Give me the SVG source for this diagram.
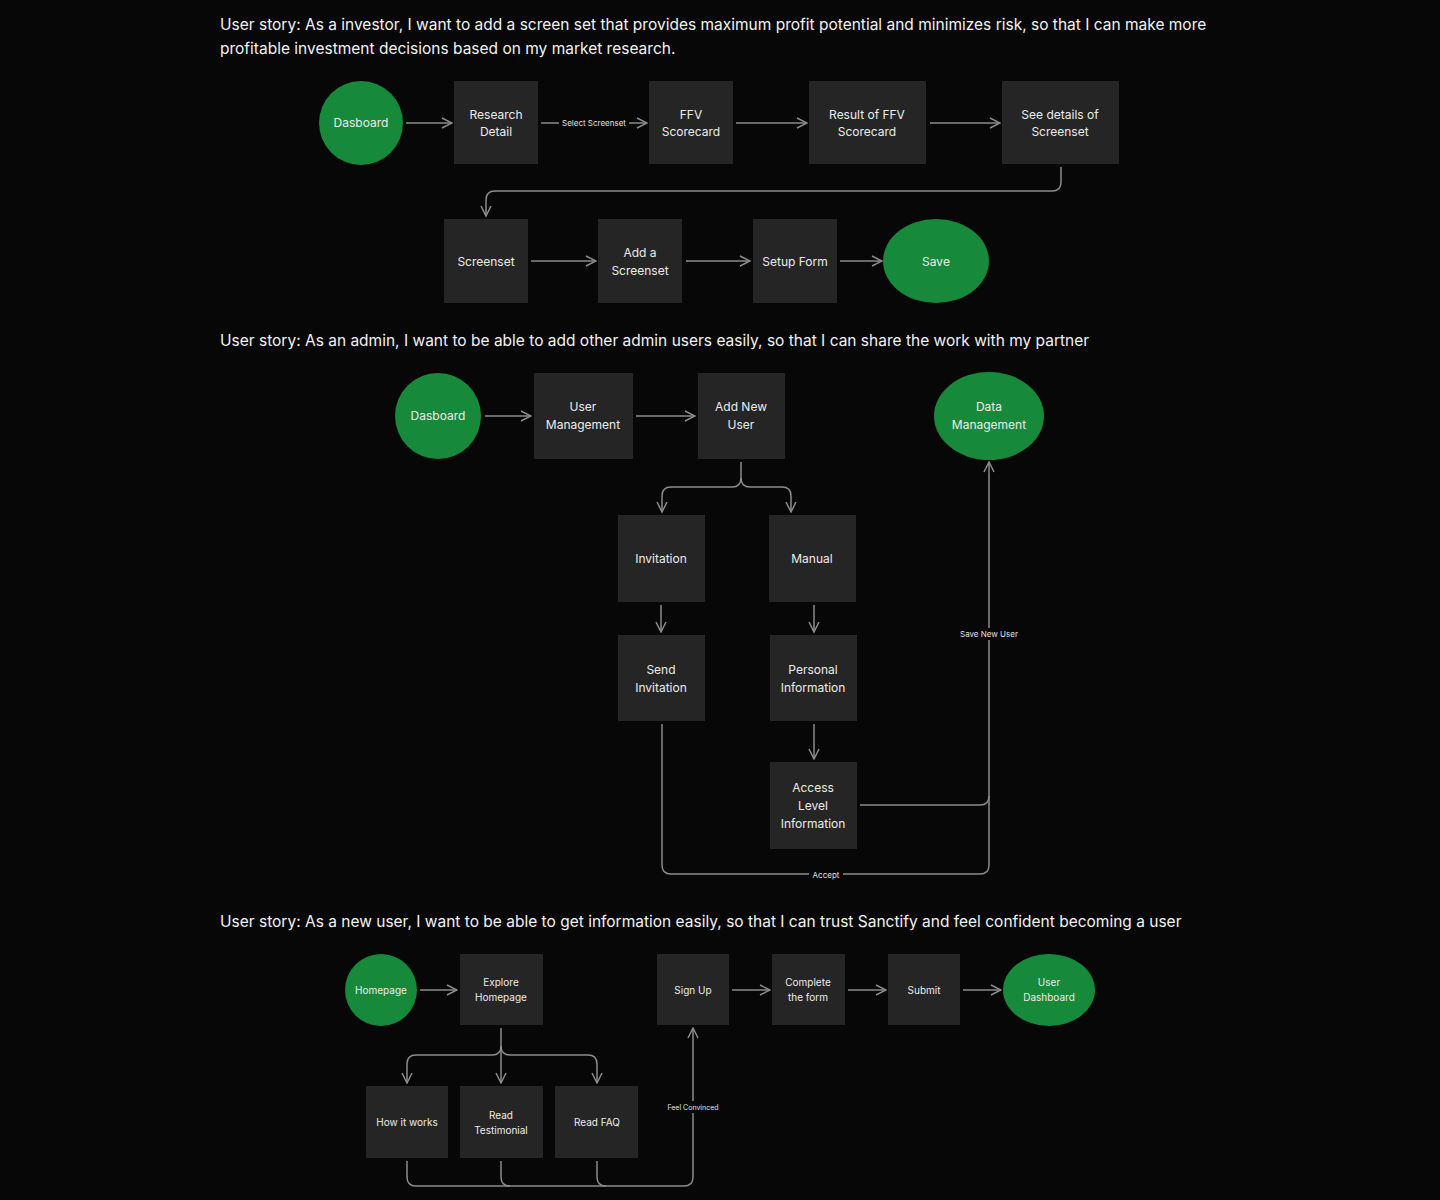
<svg xmlns="http://www.w3.org/2000/svg" width="1440" height="1200" viewBox="0 0 1440 1200">
<defs>
<marker id="ar" viewBox="0 0 12 12" refX="11" refY="6" markerWidth="12" markerHeight="12" markerUnits="userSpaceOnUse" orient="auto"><path d="M1,1 L11,6 L1,11" fill="none" stroke="#8c8c8c" stroke-width="1.5"/></marker>
</defs>
<style>
.bx{fill:#252525}
.gr{fill:#16893b}
.t{font-family:Inter,"Liberation Sans",sans-serif;font-size:12px;fill:#ececec;text-anchor:middle}
.h{font-family:Inter,"Liberation Sans",sans-serif;font-size:15.5px;fill:#f2f2f2}
.s{font-family:Inter,"Liberation Sans",sans-serif;font-size:8px;fill:#e0e0e0;text-anchor:middle}
.c path,.c line{fill:none;stroke:#8c8c8c;stroke-width:1.5}
.lb{fill:#070707}
</style>
<rect width="1440" height="1200" fill="#070707"/>
<text class="h" x="220" y="30">User story: As a investor, I want to add a screen set that provides maximum profit potential and minimizes risk, so that I can make more</text>
<text class="h" x="220" y="54">profitable investment decisions based on my market research.</text>
<text class="h" x="220" y="346">User story: As an admin, I want to be able to add other admin users easily, so that I can share the work with my partner</text>
<text class="h" x="220" y="927">User story: As a new user, I want to be able to get information easily, so that I can trust Sanctify and feel confident becoming a user</text>

<g class="c">
<line x1="406" y1="123" x2="452" y2="123" marker-end="url(#ar)"/>
<line x1="541" y1="123" x2="647" y2="123" marker-end="url(#ar)"/>
<line x1="736" y1="123" x2="807" y2="123" marker-end="url(#ar)"/>
<line x1="930" y1="123" x2="1000" y2="123" marker-end="url(#ar)"/>
<path d="M1061,167 V182 Q1061,191 1052,191 H495 Q486,191 486,200 V216" marker-end="url(#ar)"/>
<line x1="531" y1="261" x2="596" y2="261" marker-end="url(#ar)"/>
<line x1="686" y1="261" x2="750" y2="261" marker-end="url(#ar)"/>
<line x1="840" y1="261" x2="882" y2="261" marker-end="url(#ar)"/>

<line x1="485" y1="416" x2="531" y2="416" marker-end="url(#ar)"/>
<line x1="636" y1="416" x2="695" y2="416" marker-end="url(#ar)"/>
<path d="M741,462 V478 Q741,487 732,487 H671 Q662,487 662,496 V512" marker-end="url(#ar)"/>
<path d="M741,478 Q741,487 750,487 H782 Q791,487 791,496 V512" marker-end="url(#ar)"/>
<line x1="661" y1="605" x2="661" y2="632" marker-end="url(#ar)"/>
<line x1="814" y1="605" x2="814" y2="632" marker-end="url(#ar)"/>
<line x1="814" y1="724" x2="814" y2="759" marker-end="url(#ar)"/>
<path d="M860,805 H980 Q989,805 989,796 V462" marker-end="url(#ar)"/>
<path d="M662,724 V865 Q662,874 671,874 H980 Q989,874 989,865 V796"/>

<line x1="420" y1="990" x2="457" y2="990" marker-end="url(#ar)"/>
<line x1="732" y1="990" x2="770" y2="990" marker-end="url(#ar)"/>
<line x1="848" y1="990" x2="886" y2="990" marker-end="url(#ar)"/>
<line x1="963" y1="990" x2="1001" y2="990" marker-end="url(#ar)"/>
<line x1="501" y1="1028" x2="501" y2="1083" marker-end="url(#ar)"/>
<path d="M501,1046 Q501,1055 492,1055 H416 Q407,1055 407,1064 V1083" marker-end="url(#ar)"/>
<path d="M501,1046 Q501,1055 510,1055 H588 Q597,1055 597,1064 V1083" marker-end="url(#ar)"/>
<path d="M407,1161 V1177 Q407,1186 416,1186 H684 Q693,1186 693,1177 V1028" marker-end="url(#ar)"/>
<path d="M501,1161 V1177 Q501,1186 510,1186"/>
<path d="M597,1161 V1177 Q597,1186 606,1186"/>
</g>
<g id="labels">
<rect class="lb" x="559" y="117" width="70" height="12"/><text class="s" x="594" y="126">Select Screenset</text>
<rect class="lb" x="958" y="628" width="62" height="12"/><text class="s" x="989" y="637">Save New User</text>
<rect class="lb" x="809" y="869" width="34" height="12"/><text class="s" x="826" y="878">Accept</text>
<rect class="lb" x="666" y="1101" width="54" height="12"/><text class="s" x="693" y="1110" style="font-size:7px">Feel Convinced</text>
</g>

<g id="n1"><circle class="gr" cx="361" cy="123" r="42"/><text class="t" x="361" y="127">Dasboard</text></g>
<g id="n2"><rect class="bx" x="454" y="81" width="84" height="83"/><text class="t" x="496" y="119">Research</text><text class="t" x="496" y="136">Detail</text></g>
<g id="n3"><rect class="bx" x="649" y="81" width="84" height="83"/><text class="t" x="691" y="119">FFV</text><text class="t" x="691" y="136">Scorecard</text></g>
<g id="n4"><rect class="bx" x="809" y="81" width="117" height="83"/><text class="t" x="867" y="119">Result of FFV</text><text class="t" x="867" y="136">Scorecard</text></g>
<g id="n5"><rect class="bx" x="1002" y="81" width="117" height="83"/><text class="t" x="1060" y="119">See details of</text><text class="t" x="1060" y="136">Screenset</text></g>
<g id="n6"><rect class="bx" x="444" y="219" width="84" height="84"/><text class="t" x="486" y="266">Screenset</text></g>
<g id="n7"><rect class="bx" x="598" y="219" width="84" height="84"/><text class="t" x="640" y="257">Add a</text><text class="t" x="640" y="275">Screenset</text></g>
<g id="n8"><rect class="bx" x="753" y="219" width="84" height="84"/><text class="t" x="795" y="266">Setup Form</text></g>
<g id="n9"><ellipse class="gr" cx="936" cy="261" rx="53" ry="42"/><text class="t" x="936" y="266">Save</text></g>

<g id="m1"><circle class="gr" cx="438" cy="416" r="43"/><text class="t" x="438" y="420">Dasboard</text></g>
<g id="m2"><rect class="bx" x="534" y="373" width="99" height="86"/><text class="t" x="583" y="411">User</text><text class="t" x="583" y="429">Management</text></g>
<g id="m3"><rect class="bx" x="698" y="373" width="87" height="86"/><text class="t" x="741" y="411">Add New</text><text class="t" x="741" y="429">User</text></g>
<g id="m4"><ellipse class="gr" cx="989" cy="416" rx="55" ry="44"/><text class="t" x="989" y="411">Data</text><text class="t" x="989" y="429">Management</text></g>
<g id="m5"><rect class="bx" x="618" y="515" width="87" height="87"/><text class="t" x="661" y="563">Invitation</text></g>
<g id="m6"><rect class="bx" x="769" y="515" width="87" height="87"/><text class="t" x="812" y="563">Manual</text></g>
<g id="m7"><rect class="bx" x="618" y="635" width="87" height="86"/><text class="t" x="661" y="674">Send</text><text class="t" x="661" y="692">Invitation</text></g>
<g id="m8"><rect class="bx" x="770" y="635" width="87" height="86"/><text class="t" x="813" y="674">Personal</text><text class="t" x="813" y="692">Information</text></g>
<g id="m9"><rect class="bx" x="770" y="762" width="87" height="87"/><text class="t" x="813" y="792">Access</text><text class="t" x="813" y="810">Level</text><text class="t" x="813" y="828">Information</text></g>

<g id="k1"><circle class="gr" cx="381" cy="990" r="36"/><text class="t" x="381" y="994" style="font-size:10px">Homepage</text></g>
<g id="k2"><rect class="bx" x="460" y="954" width="83" height="71"/><text class="t" x="501" y="986" style="font-size:10px">Explore</text><text class="t" x="501" y="1001" style="font-size:10px">Homepage</text></g>
<g id="k3"><rect class="bx" x="657" y="954" width="72" height="71"/><text class="t" x="693" y="994" style="font-size:10px">Sign Up</text></g>
<g id="k4"><rect class="bx" x="772" y="954" width="73" height="71"/><text class="t" x="808" y="986" style="font-size:10px">Complete</text><text class="t" x="808" y="1001" style="font-size:10px">the form</text></g>
<g id="k5"><rect class="bx" x="888" y="954" width="72" height="71"/><text class="t" x="924" y="994" style="font-size:10px">Submit</text></g>
<g id="k6"><ellipse class="gr" cx="1049" cy="990" rx="46" ry="36"/><text class="t" x="1049" y="986" style="font-size:10px">User</text><text class="t" x="1049" y="1001" style="font-size:10px">Dashboard</text></g>
<g id="k7"><rect class="bx" x="366" y="1086" width="82" height="72"/><text class="t" x="407" y="1126" style="font-size:10px">How it works</text></g>
<g id="k8"><rect class="bx" x="460" y="1086" width="83" height="72"/><text class="t" x="501" y="1119" style="font-size:10px">Read</text><text class="t" x="501" y="1134" style="font-size:10px">Testimonial</text></g>
<g id="k9"><rect class="bx" x="555" y="1086" width="83" height="72"/><text class="t" x="597" y="1126" style="font-size:10px">Read FAQ</text></g>
</svg>
